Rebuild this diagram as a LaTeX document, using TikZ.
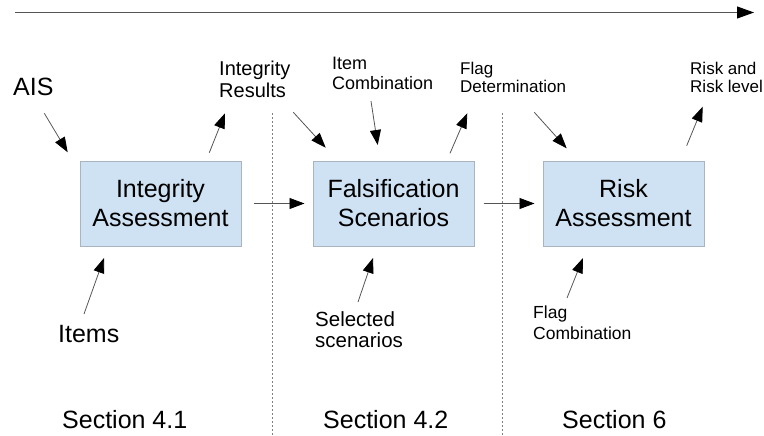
\documentclass[tikz,border=0pt]{standalone}
\usepackage{fontspec}
\setmainfont{Liberation Sans}
\usetikzlibrary{arrows.meta}
\definecolor{boxfill}{HTML}{CFE2F3}
\definecolor{boxline}{HTML}{A9B4BE}
\definecolor{lin}{HTML}{555555}
\begin{document}
\begin{tikzpicture}[x=1pt,y=-1pt,
  box/.style={draw=boxline,fill=boxfill,minimum width=161pt,minimum height=85pt,inner sep=0pt,align=center,font=\fontsize{25}{29}\selectfont,line width=1pt},
  lbl/.style={anchor=north west,inner sep=0pt,align=left},
  arr/.style={draw=lin,line width=0.8pt,-{Triangle[length=15pt,width=11pt,color=black]}},
  sepline/.style={draw=gray,dash pattern=on 2pt off 2pt,line width=0.7pt}]
\useasboundingbox (0,0) rectangle (764,436);

% timeline
\coordinate (t0) at (15,12.5);
\coordinate (t1) at (754,12.5);
\draw[draw=lin,line width=0.9pt,-{Triangle[length=17pt,width=12pt,color=black]}] (t0) -- (t1);

% section separators
\coordinate (s1a) at (272,113);
\coordinate (s1b) at (272,436);
\coordinate (s2a) at (502,113);
\coordinate (s2b) at (502,436);
\draw[sepline] (s1a) -- (s1b);
\draw[sepline] (s2a) -- (s2b);

% boxes
\node[box] (b1) at (160.5,203.5) {Integrity\\Assessment};
\node[box] (b2) at (393.5,203.5) {Falsification\\Scenarios};
\node[box] (b3) at (623.5,203.5) {Risk\\Assessment};

\draw[arr,shorten <=12pt,shorten >=8pt] (b1.east) -- (b2.west);
\draw[arr,shorten <=9pt,shorten >=8pt] (b2.east) -- (b3.west);

% labels
\node[lbl,font=\fontsize{25}{29}\selectfont] (ais) at (13,78) {AIS};
\node[lbl,font=\fontsize{20}{21.5}\selectfont] (ir) at (219,61) {Integrity\\Results};
\node[lbl,font=\fontsize{18}{20}\selectfont] (ic) at (332,57) {Item\\Combination};
\node[lbl,font=\fontsize{17}{18}\selectfont] (fd) at (460,62) {Flag\\Determination};
\node[lbl,font=\fontsize{17}{18}\selectfont] (rr) at (690,61.5) {Risk and\\Risk level};
\node[lbl,font=\fontsize{25}{29}\selectfont] (items) at (58,325) {Items};
\node[lbl,font=\fontsize{20.5}{21}\selectfont] (sel) at (315,311.5) {Selected\\scenarios};
\node[lbl,font=\fontsize{17.5}{21}\selectfont] (fc) at (533,306) {Flag\\Combination};
\node[lbl,font=\fontsize{25}{29}\selectfont] (sec1) at (62,410.5) {Section 4.1};
\node[lbl,font=\fontsize{25}{29}\selectfont] (sec2) at (323,410.5) {Section 4.2};
\node[lbl,font=\fontsize{25}{29}\selectfont] (sec3) at (562,410.5) {Section 6};

% arrow end points
\coordinate (a1s) at (44.3,113.3);  \coordinate (a1e) at (67.7,152.3);
\coordinate (a2s) at (209.3,152.7); \coordinate (a2e) at (225,113.3);
\coordinate (a3s) at (293.3,112.3); \coordinate (a3e) at (325.7,147.7);
\coordinate (a4s) at (371,101);     \coordinate (a4e) at (377.7,145);
\coordinate (a5s) at (450,153.3);   \coordinate (a5e) at (467.3,113.3);
\coordinate (a6s) at (534.3,112.3); \coordinate (a6e) at (566.7,148.3);
\coordinate (a7s) at (686.7,145.7); \coordinate (a7e) at (702.7,106.7);
\coordinate (a8s) at (84,314);      \coordinate (a8e) at (104,258);
\coordinate (a9s) at (358,302);     \coordinate (a9e) at (373,258);
\coordinate (a10s) at (567,298);    \coordinate (a10e) at (583,258);

\draw[arr] (a1s) -- (a1e);
\draw[arr] (a2s) -- (a2e);
\draw[arr] (a3s) -- (a3e);
\draw[arr] (a4s) -- (a4e);
\draw[arr] (a5s) -- (a5e);
\draw[arr] (a6s) -- (a6e);
\draw[arr] (a7s) -- (a7e);
\draw[arr] (a8s) -- (a8e);
\draw[arr] (a9s) -- (a9e);
\draw[arr] (a10s) -- (a10e);
\end{tikzpicture}
\end{document}
